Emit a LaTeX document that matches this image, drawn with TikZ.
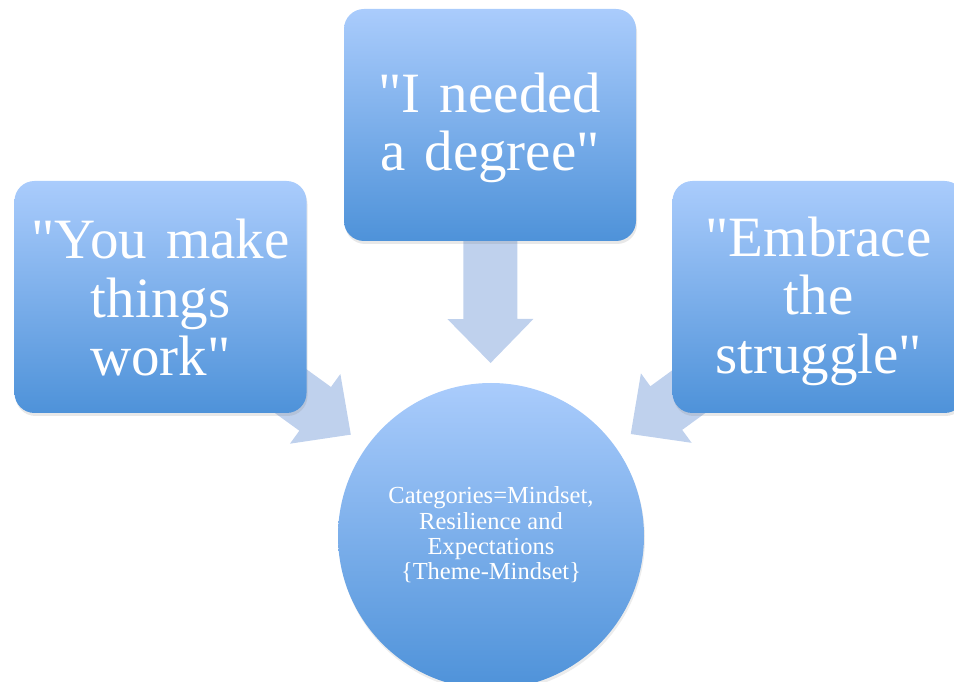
\documentclass[tikz,border=0pt]{standalone}
\usepackage{fontspec}
\setmainfont{Liberation Serif}
\usetikzlibrary{calc,shadows}
\definecolor{boxtop}{RGB}{170,204,252}
\definecolor{boxbot}{RGB}{78,146,217}
\definecolor{arrowfill}{RGB}{191,209,237}
\pgfdeclarelayer{bg}
\pgfsetlayers{bg,main}
\font\qqfont="Liberation Serif" at 57pt
\newcommand{\qq}{{\qqfont\char34\relax}}
\tikzset{
  quotebox/.style={rectangle, rounded corners=20pt, minimum width=292pt,
    minimum height=232pt, inner sep=0pt,
    top color=boxtop, bottom color=boxbot,
    drop shadow={opacity=0.18, shadow xshift=1pt, shadow yshift=-3pt}},
  quotetext/.style={inner sep=0pt, text width=280pt, align=center,
    text=white, font=\fontsize{57}{58.5}\selectfont},
  hub/.style={circle, minimum size=306pt, inner sep=0pt,
    top color=boxtop, bottom color=boxbot,
    drop shadow={opacity=0.15, shadow xshift=1pt, shadow yshift=-3pt}},
  hubtext/.style={text=white, align=center, inner sep=0pt,
    font=\fontsize{24.5}{25.3}\selectfont},
  fatarrow/.style={fill=arrowfill},
}
\newcommand{\mkfatarrow}[2]{%
  \coordinate (#2b) at ($(#2)!44pt!(#1.center)$);
  \fill[fatarrow] (#2) -- ($(#2b)!43pt!90:(#2)$) -- ($(#2b)!27pt!90:(#2)$)
    -- ($(#1.center)!27pt!90:(#2)$) -- ($(#1.center)!27pt!-90:(#2)$)
    -- ($(#2b)!27pt!-90:(#2)$) -- ($(#2b)!43pt!-90:(#2)$) -- cycle;}
\begin{document}
\begin{tikzpicture}[x=1pt,y=1pt]
\useasboundingbox (0,0) rectangle (954,681);
\node[quotebox] (top) at (490,556) {};
\node[quotetext] (toptext) at ($(top.center)+(0,-3)$) {\qq I needed\\a degree\qq};
\node[quotebox] (left) at (160.5,384) {};
\node[quotetext] (lefttext) at ($(left.center)+(0,-1)$) {\qq You make\\things\\work\qq};
\node[quotebox] (right) at (818.5,384) {};
\node[quotetext] (righttext) at ($(right.center)+(0,-4)$) {\qq Embrace\\the\\struggle\qq};
\node[hub] (circ) at (491,145) {};
\node[hubtext] (ctext) at ($(circ.center)+(0,1)$)
  {Categories=Mindset,\\Resilience and\\Expectations\\\{Theme-Mindset\}};
\coordinate (tipT) at ($(circ.center)!173pt!(top.center)$);
\coordinate (tipL) at ($(circ.center)!173pt!(left.center)$);
\coordinate (tipR) at ($(circ.center)!173pt!(right.center)$);
\begin{pgfonlayer}{bg}
\mkfatarrow{top}{tipT}
\mkfatarrow{left}{tipL}
\mkfatarrow{right}{tipR}
\end{pgfonlayer}
\end{tikzpicture}
\end{document}
